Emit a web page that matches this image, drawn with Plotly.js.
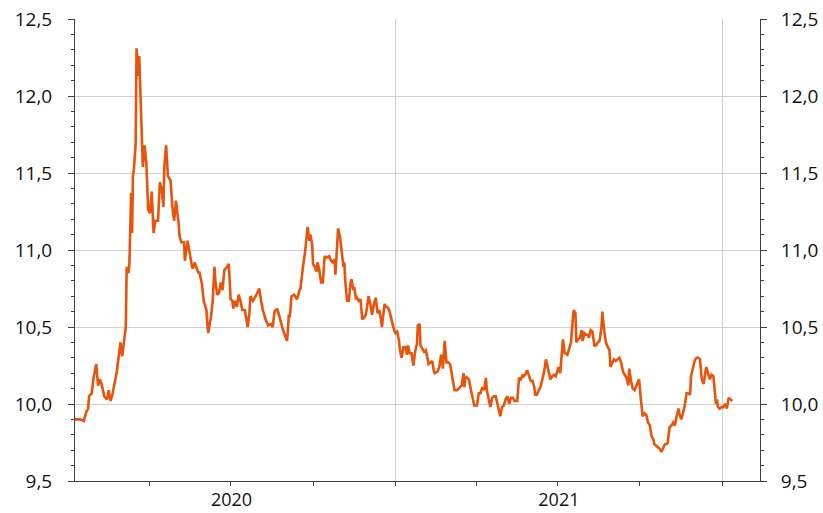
<!DOCTYPE html>
<html>
<head>
<meta charset="utf-8">
<script src="https://cdn.plot.ly/plotly-3.0.1.min.js"></script>
<style>html,body{margin:0;padding:0;background:#fff;}#chart{width:823px;height:513px;}</style>
</head>
<body>
<div id="chart"></div>
<script>
// days since 2020-01-01
const days = [8,14,18,21,23,24,27,29,32,34,36,38,41,44,46,48,50,53,55,58,59,61,63,65,66,68,69,70,71,72,73,74,76,77,79,80,82,84,86,88,90,92,94,96,98,101,103,105,107,108,110,112,115,117,119,121,124,125,127,130,131,134,139,140,142,146,147,150,152,155,156,157,159,160,162,163,164,165,167,169,171,173,175,178,180,181,182,184,185,187,189,191,193,195,198,201,203,204,207,210,214,216,218,221,224,227,229,231,234,236,238,240,243,245,246,247,248,250,253,256,259,260,263,265,268,270,271,273,274,276,278,279,281,283,285,287,289,292,294,296,298,299,301,302,304,306,308,309,310,312,314,316,317,319,320,322,323,325,327,329,331,333,335,336,338,340,342,344,346,348,349,351,352,354,355,357,359,361,362,364,366,
368,370,371,373,375,377,379,380,382,384,386,388,390,391,393,394,396,398,400,401,403,405,407,409,410,413,415,417,418,419,421,423,425,427,429,431,432,435,437,440,442,443,444,446,448,450,452,454,457,459,461,463,465,467,468,470,472,474,476,478,480,481,483,485,487,489,491,493,495,497,499,502,504,506,508,509,511,513,515,517,519,521,522,524,526,528,530,532,534,535,537,539,541,543,545,547,548,550,551,553,555,556,558,560,562,564,565,567,568,570,572,574,575,577,579,581,582,584,586,588,590,592,594,596,597,599,601,603,605,606,608,610,612,614,616,618,620,622,624,626,627,629,631,633,635,637,638,640,642,644,646,648,650,652,654,655,657,659,661,663,665,667,669,670,672,674,676,678,680,682,683,685,687,689,691,693,695,696,698,700,702,704,706,708,710,711,713,715,717,719,721,723,724,725,726,728,730,732,734,736,737,738,740,742];
const rate = [9.90,9.90,9.89,9.95,9.97,10.05,10.07,10.17,10.26,10.12,10.16,10.13,10.05,10.03,10.09,10.02,10.06,10.15,10.21,10.35,10.40,10.31,10.40,10.50,10.89,10.85,10.91,11.13,11.37,11.11,11.48,11.52,11.69,12.31,12.13,12.26,11.87,11.54,11.68,11.56,11.26,11.24,11.38,11.11,11.19,11.19,11.44,11.40,11.28,11.54,11.68,11.48,11.45,11.28,11.19,11.32,11.17,11.09,11.05,11.05,10.93,11.06,10.89,10.88,10.92,10.85,10.86,10.78,10.67,10.61,10.52,10.46,10.53,10.56,10.67,10.83,10.89,10.80,10.71,10.72,10.79,10.74,10.87,10.89,10.91,10.80,10.68,10.67,10.62,10.67,10.63,10.71,10.67,10.61,10.61,10.50,10.59,10.70,10.67,10.70,10.75,10.67,10.61,10.55,10.51,10.52,10.50,10.60,10.62,10.58,10.53,10.49,10.44,10.41,10.48,10.58,10.56,10.70,10.71,10.68,10.74,10.75,10.90,10.98,11.15,11.06,11.10,11.04,10.91,10.89,10.86,10.92,10.87,10.79,10.79,10.96,10.95,10.96,10.93,10.92,10.94,10.84,11.04,11.14,11.09,10.97,10.89,10.92,10.80,10.67,10.67,10.79,10.81,10.74,10.76,10.68,10.69,10.67,10.68,10.55,10.56,10.58,10.67,10.70,10.65,10.58,10.65,10.69,10.59,10.61,10.58,10.50,10.56,10.65,10.63,10.63,10.61,10.55,10.54,10.49,10.46,
10.47,10.41,10.35,10.30,10.37,10.37,10.32,10.38,10.33,10.33,10.25,10.34,10.39,10.51,10.52,10.38,10.36,10.34,10.35,10.31,10.26,10.27,10.28,10.21,10.20,10.21,10.24,10.32,10.29,10.23,10.41,10.27,10.27,10.26,10.18,10.11,10.09,10.09,10.10,10.12,10.20,10.11,10.18,10.17,10.16,10.10,10.05,9.99,9.99,10.07,10.07,10.11,10.09,10.17,10.09,10.04,9.98,10.04,10.05,10.05,10.00,9.97,9.92,9.98,9.99,10.03,10.05,10.00,10.04,10.04,10.02,10.02,10.17,10.16,10.19,10.18,10.19,10.22,10.18,10.15,10.15,10.11,10.06,10.06,10.09,10.11,10.16,10.21,10.29,10.26,10.20,10.16,10.18,10.19,10.18,10.22,10.24,10.20,10.30,10.42,10.33,10.33,10.32,10.37,10.40,10.55,10.61,10.59,10.40,10.42,10.43,10.48,10.41,10.46,10.45,10.45,10.43,10.48,10.47,10.38,10.38,10.40,10.41,10.50,10.60,10.48,10.40,10.37,10.35,10.24,10.27,10.29,10.28,10.29,10.30,10.27,10.21,10.19,10.17,10.12,10.23,10.15,10.10,10.09,10.12,10.15,10.16,10.03,9.92,9.94,9.93,9.88,9.86,9.79,9.77,9.74,9.73,9.72,9.71,9.69,9.72,9.74,9.74,9.75,9.85,9.86,9.88,9.86,9.92,9.97,9.94,9.90,9.94,9.99,10.07,10.07,10.06,10.18,10.23,10.28,10.30,10.30,10.29,10.16,10.13,10.16,10.24,10.20,10.16,10.19,10.18,10.05,10.00,10.03,9.98,9.97,9.98,9.98,10.00,9.97,10.03,10.04,10.03,10.02];

const base = Date.UTC(2020, 0, 1);
const dates = days.map(d => new Date(base + d * 86400000).toISOString().slice(0, 10));

const lineColor = '#E8540C';
const axisColor = '#404040';
const gridColor = '#d0d0d0';
const font = {family: '"Open Sans", "Liberation Sans", sans-serif', size: 19, color: '#111'};
const xfont = {family: '"Open Sans", "Liberation Sans", sans-serif', size: 18, color: '#111'};

const yCommon = {
  range: [9.5, 12.5], dtick: 0.5, tick0: 9.5, tickformat: '.1f',
  ticks: 'outside', ticklen: 6, tickcolor: axisColor, tickwidth: 1,
  showline: true, linecolor: axisColor, linewidth: 1, zeroline: false,
  minor: {dtick: 0.1, tick0: 9.5, ticks: 'outside', ticklen: 3, tickcolor: axisColor, showgrid: false},
  tickfont: font, fixedrange: true
};

const data = [
  {x: dates, y: rate, type: 'scatter', mode: 'lines', line: {color: lineColor, width: 2.6}, hoverinfo: 'skip', showlegend: false},
  {x: [], y: [], type: 'scatter', mode: 'lines', yaxis: 'y2', showlegend: false, hoverinfo: 'skip'}
];

const layout = {
  width: 823, height: 513,
  margin: {l: 75, r: 63, t: 19, b: 32, pad: 0},
  paper_bgcolor: '#fff', plot_bgcolor: '#fff',
  separators: ',.',
  font: font,
  showlegend: false,
  xaxis: {
    type: 'date', range: ['2020-01-09 07:00', '2022-02-12'],
    tick0: '2020-01-01', dtick: 'M12', tickformat: '%Y', ticklabelmode: 'period',
    ticks: 'outside', ticklen: 4, tickcolor: axisColor, ticklabelstandoff: -2,
    showgrid: true, gridcolor: gridColor, gridwidth: 1,
    showline: true, linecolor: axisColor, linewidth: 1, zeroline: false,
    minor: {tick0: '2020-01-01', dtick: 'M3', ticks: 'outside', ticklen: 4, tickcolor: axisColor, showgrid: false},
    tickfont: xfont, fixedrange: true
  },
  yaxis: Object.assign({}, yCommon, {showgrid: true, gridcolor: gridColor, gridwidth: 1, side: 'left', ticklabelstandoff: 12}),
  yaxis2: Object.assign({}, yCommon, {overlaying: 'y', side: 'right', showgrid: false, ticklabelstandoff: 10})
};

Plotly.newPlot('chart', data, layout, {displayModeBar: false, staticPlot: true});
</script>
</body>
</html>
